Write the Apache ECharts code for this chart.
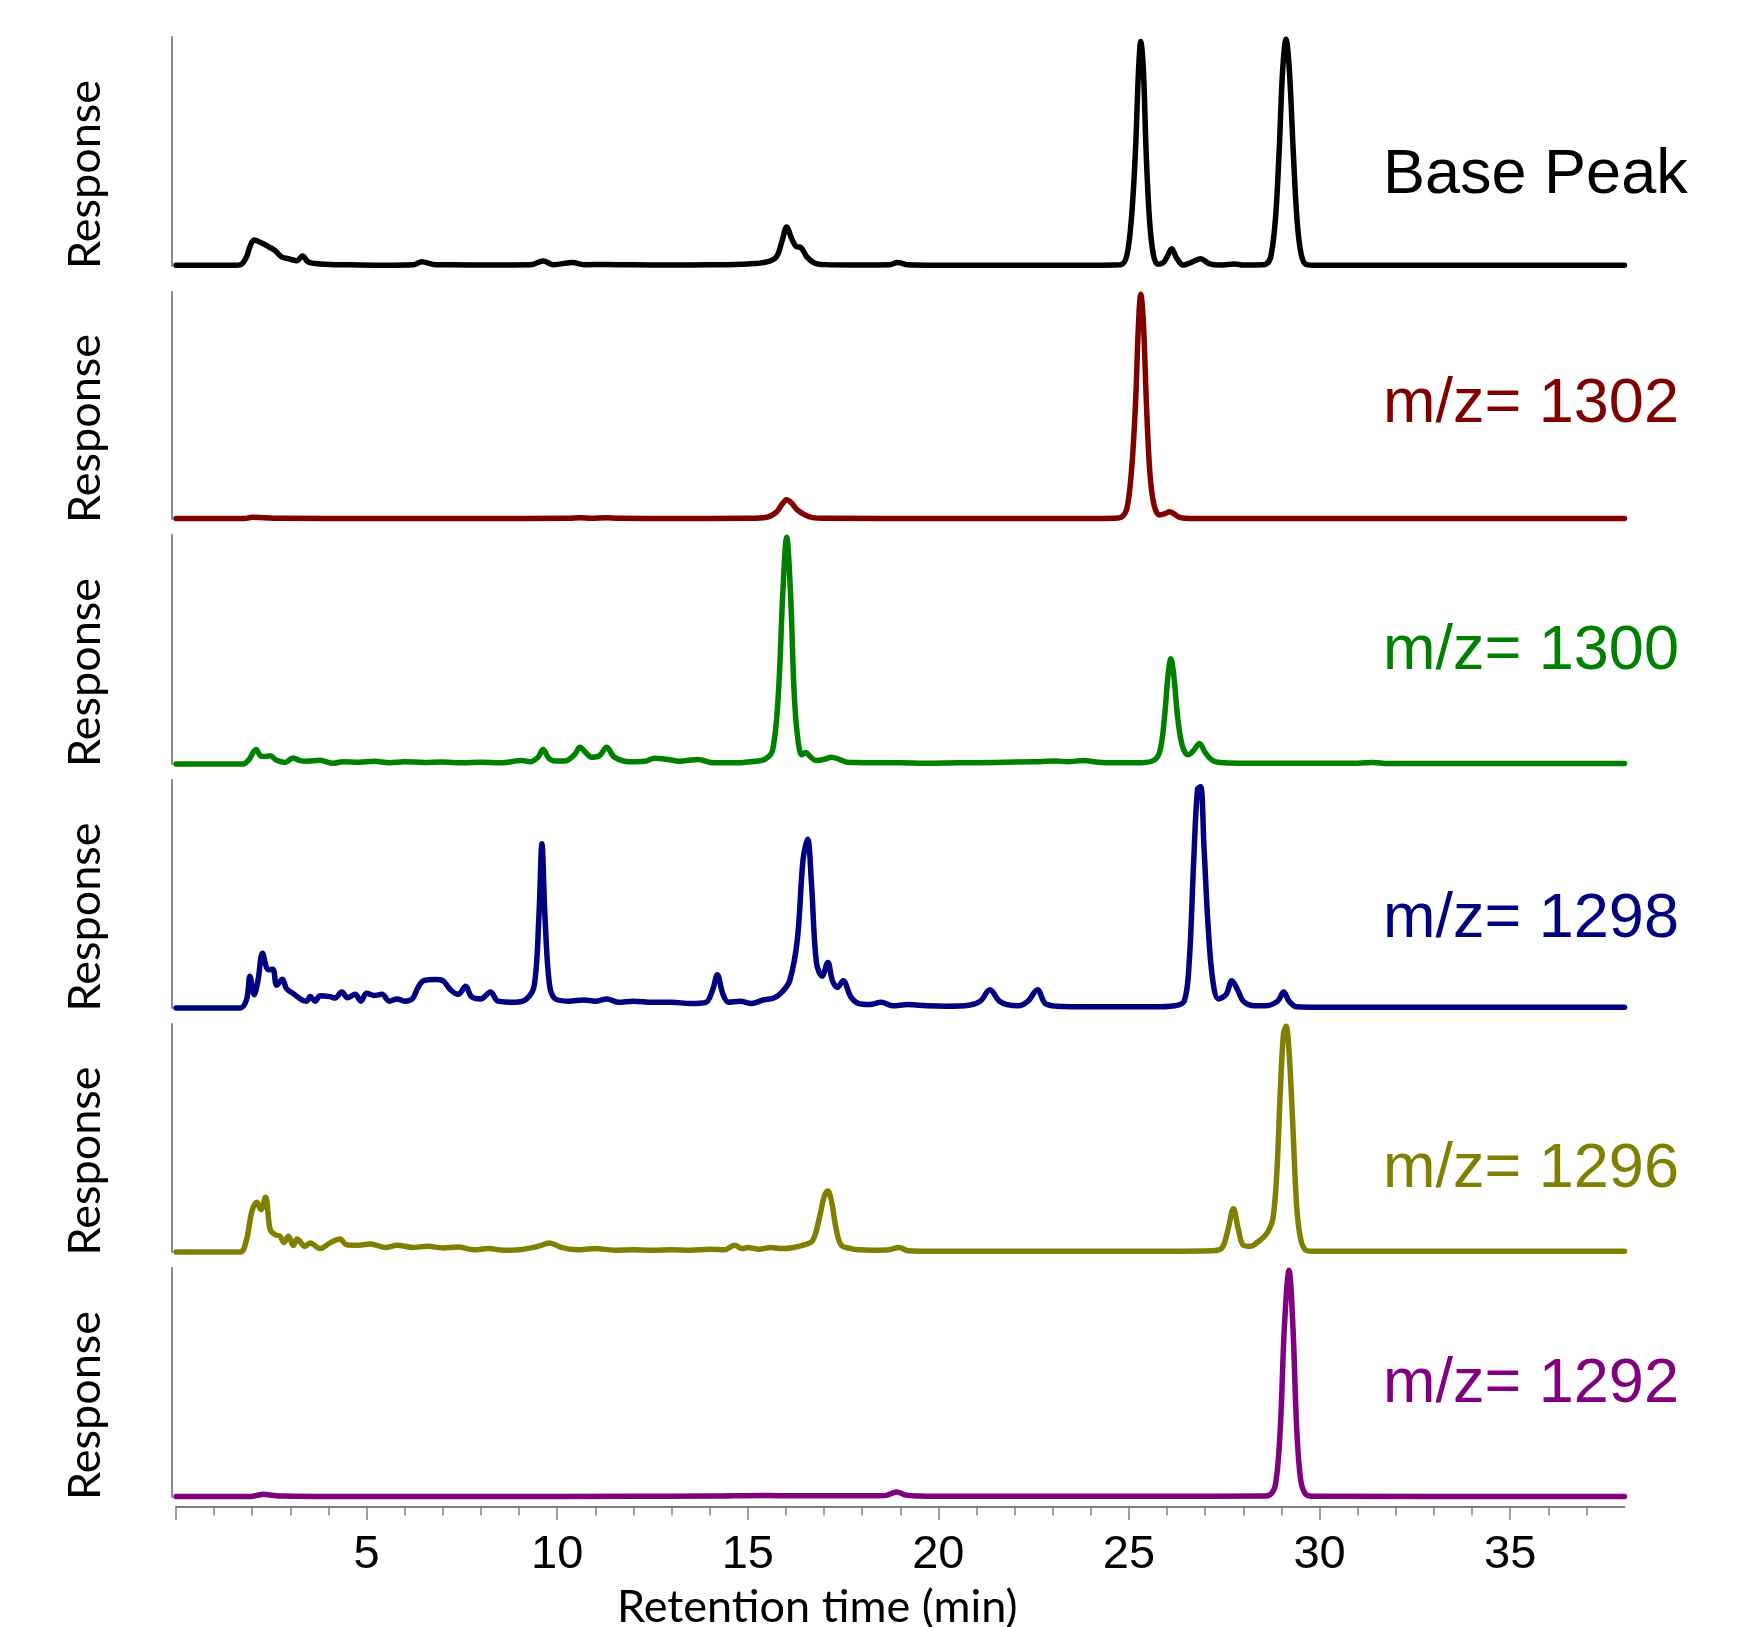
<!DOCTYPE html>
<html>
<head>
<meta charset="utf-8">
<script src="https://cdn.jsdelivr.net/npm/echarts@6/dist/echarts.min.js"></script>
<style>html,body{margin:0;padding:0;background:#fff}#c{width:1749px;height:1627px}</style>
</head>
<body>
<div id="c"></div>
<script>
// ---------- data ----------
const xMajorTicks = [0, 5, 10, 15, 20, 25, 30, 35];
const xTickLabels = [5, 10, 15, 20, 25, 30, 35];
const traceNames = ['Base Peak', 'm/z= 1302', 'm/z= 1300', 'm/z= 1298', 'm/z= 1296', 'm/z= 1292'];
const traceColors = ['#000000', '#800000', '#008000', '#000080', '#808000', '#800080'];

const basePeak = [[0,0.3],[1.5,0.3],[1.7,0.6],[1.85,4],[1.94,8.5],[2.05,11.3],[2.25,10],[2.42,8.5],[2.6,6.7],[2.77,4],[2.99,3],[3.17,2.3],[3.32,4.4],[3.47,1.7],[3.78,0.9],[4.56,0.5],[5.43,0.3],[6.23,0.5],[6.45,1.9],[6.75,0.7],[7.2,0.5],[8.2,0.4],[9.3,0.5],[9.63,2.2],[9.9,0.6],[10.4,1.5],[10.7,0.6],[11.3,0.7],[12,0.5],[13,0.4],[14,0.5],[15,0.9],[15.5,1.8],[15.75,4],[15.9,11],[16.02,17],[16.15,12],[16.27,8.5],[16.4,8],[16.55,4],[16.75,1.3],[17,0.6],[18,0.4],[18.7,0.5],[18.93,1.5],[19.2,0.5],[20,0.3],[22,0.3],[24,0.3],[24.6,0.4],[24.8,0.6],[24.95,5],[25.07,22],[25.17,50],[25.25,85],[25.31,98],[25.38,85],[25.45,50],[25.54,20],[25.64,5],[25.75,0.8],[25.9,1.5],[26.0,4],[26.12,7.5],[26.25,3.5],[26.42,0.4],[26.6,1.3],[26.88,3.2],[27.1,1],[27.4,0.4],[27.77,0.9],[28,0.4],[28.5,0.5],[28.6,0.8],[28.72,4],[28.84,20],[28.94,50],[29.03,85],[29.12,99],[29.21,85],[29.31,50],[29.41,20],[29.52,5],[29.66,0.6],[29.9,0.3],[33,0.3],[38,0.3]];

const mz1302 = [[0,0.2],[1.8,0.2],[2.0,0.8],[2.3,0.6],[2.8,0.3],[5,0.2],[8,0.2],[10.3,0.3],[10.6,0.6],[10.9,0.3],[11.3,0.6],[11.6,0.3],[13,0.2],[15,0.3],[15.5,0.8],[15.75,3],[15.9,6.5],[16.02,8.5],[16.15,7],[16.3,4],[16.5,1.8],[16.7,0.6],[17,0.3],[20,0.2],[24,0.2],[24.6,0.3],[24.8,0.8],[24.95,5],[25.07,22],[25.17,50],[25.25,86],[25.31,99],[25.38,86],[25.46,50],[25.55,20],[25.66,6],[25.8,1.8],[25.95,2.4],[26.07,3.2],[26.2,2],[26.35,0.6],[26.6,0.2],[30,0.2],[38,0.2]];

const mz1300 = [[0,0],[1.76,0],[1.9,1.6],[2.1,6.3],[2.22,3.5],[2.33,3.3],[2.47,3.6],[2.64,1.6],[2.86,0.7],[3.07,2.6],[3.25,1.5],[3.43,1.2],[3.78,1.6],[4.12,0.3],[4.38,1.0],[4.8,0.8],[5.2,1.2],[5.6,0.6],[6.0,1.0],[6.5,0.7],[7.0,0.9],[7.5,0.5],[8.0,0.8],[8.5,0.5],[9.08,1.5],[9.3,1.0],[9.5,3],[9.63,6.3],[9.78,2.5],[9.95,1.3],[10.2,1.3],[10.45,4],[10.6,7.3],[10.75,5],[10.9,3],[11.1,3.5],[11.3,7.3],[11.5,3],[11.9,1],[12.3,1.2],[12.55,2.5],[12.9,2],[13.2,1.2],[13.7,2],[14.1,0.5],[14.7,0.5],[15.2,1.2],[15.45,2],[15.65,6],[15.8,30],[15.92,75],[16.02,99],[16.12,75],[16.22,30],[16.32,10],[16.42,4],[16.52,5],[16.65,3],[16.8,1.5],[17.0,2],[17.2,3],[17.4,2],[17.6,0.8],[18,0.6],[18.5,0.5],[19,0.5],[19.6,0.3],[20.5,0.5],[21.5,0.7],[22.5,1],[23.1,1.3],[23.4,1],[23.8,1.5],[24.2,0.8],[24.6,0.5],[25.2,0.5],[25.6,1.2],[25.8,5],[25.93,20],[26.02,38],[26.1,46],[26.18,38],[26.28,20],[26.4,8],[26.55,4],[26.7,6],[26.85,9],[27.0,5],[27.2,1.5],[27.5,0.5],[28,0.3],[31.0,0.3],[31.4,0.7],[31.8,0.2],[38,0.2]];

const mz1298 = [[0,0],[1.68,0],[1.85,3.6],[1.94,13.9],[2.05,5.8],[2.15,12],[2.27,24],[2.42,16.8],[2.54,17],[2.64,10],[2.79,12.6],[2.9,8.5],[3.08,6.3],[3.3,3.6],[3.43,3],[3.52,5],[3.65,3],[3.78,5.4],[4.04,5],[4.17,4.4],[4.35,7],[4.5,4.5],[4.7,6],[4.85,3],[5.0,6.5],[5.2,5.5],[5.4,6],[5.6,3],[5.8,4],[6.0,3],[6.2,4],[6.35,9],[6.5,12],[6.8,12.5],[7.0,12],[7.2,8],[7.4,6],[7.6,9.5],[7.75,5],[8.0,4],[8.25,7],[8.45,3],[8.9,2.5],[9.2,4],[9.4,10],[9.52,40],[9.6,72],[9.68,40],[9.8,10],[9.95,4],[10.3,3],[10.7,3.5],[11.0,3],[11.3,4],[11.6,2.5],[12.0,3],[12.5,2.5],[13.0,2.5],[13.5,2],[13.9,2.5],[14.08,8],[14.2,14.6],[14.35,6],[14.5,2.5],[14.8,3],[15.1,2],[15.4,3.5],[15.7,4.5],[15.9,7],[16.1,12],[16.3,30],[16.45,65],[16.57,74],[16.67,55],[16.8,20],[16.95,14],[17.1,20],[17.22,12],[17.35,9],[17.5,12],[17.7,5],[17.9,2],[18.2,1.5],[18.5,2.5],[18.8,1],[19.2,1.5],[19.7,1],[20.2,0.8],[20.8,1.2],[21.1,3],[21.35,8],[21.6,3],[21.8,1.5],[22.1,1],[22.35,3],[22.6,8],[22.8,2],[23.1,0.8],[24,0.5],[25,0.6],[25.6,0.5],[26.2,1],[26.45,3],[26.58,20],[26.7,65],[26.8,96],[26.88,97],[26.97,70],[27.08,35],[27.2,12],[27.35,4],[27.55,6],[27.7,12],[27.85,8],[28.0,3],[28.3,1],[28.6,1],[28.9,3],[29.06,7],[29.2,3],[29.4,0.5],[30,0.3],[38,0.3]];

const mz1296 = [[0,0],[1.68,0],[1.85,5.4],[1.99,17.8],[2.12,21.8],[2.23,18.6],[2.35,24],[2.47,9.8],[2.6,7.6],[2.73,6.9],[2.83,4.2],[2.95,6.9],[3.08,2.8],[3.18,5.7],[3.38,2.5],[3.52,4],[3.78,1.5],[4.04,4],[4.3,5.7],[4.47,3.2],[4.8,3],[5.1,3.5],[5.5,2],[5.8,3],[6.2,2],[6.6,2.5],[7.0,1.8],[7.4,2.2],[7.8,1],[8.2,1.5],[8.6,0.8],[9.0,1],[9.5,2.5],[9.8,4],[10.1,2],[10.5,1],[11,1.5],[11.5,0.8],[12,1],[12.5,0.8],[13,1],[13.5,0.8],[14,1.2],[14.4,1],[14.65,3],[14.85,1.5],[15.0,2],[15.3,1.2],[15.6,2],[15.9,1.5],[16.2,2],[16.45,3],[16.7,5],[16.88,15],[17.0,24],[17.1,26.7],[17.2,22],[17.32,10],[17.45,3],[17.7,1.5],[17.9,1],[18.3,0.8],[18.7,1],[18.97,2],[19.2,0.6],[20,0.3],[22,0.3],[24,0.3],[26,0.3],[27.2,0.5],[27.45,2],[27.6,10],[27.74,19],[27.87,10],[28.0,3],[28.2,2.5],[28.35,4],[28.5,6],[28.65,9],[28.78,15],[28.88,35],[28.97,70],[29.05,95],[29.12,99],[29.2,88],[29.3,55],[29.4,20],[29.5,6],[29.62,1],[29.8,0.3],[38,0.3]];

const mz1292 = [[0,0.2],[1.9,0.2],[2.1,0.6],[2.3,1.2],[2.5,0.8],[2.8,0.4],[4,0.2],[8,0.2],[12,0.3],[14,0.4],[15.5,0.7],[16.5,0.5],[18,0.5],[18.6,0.6],[18.9,2.2],[19.15,0.8],[19.5,0.4],[20,0.3],[26,0.3],[28.5,0.4],[28.7,1],[28.85,6],[28.97,30],[29.08,75],[29.2,99],[29.3,75],[29.4,30],[29.5,8],[29.62,1.5],[29.8,0.3],[38,0.2]];

const traces = [basePeak, mz1302, mz1300, mz1298, mz1296, mz1292];

// ---------- layout ----------
const panels = [
  {top: 37, h: 229}, {top: 292, h: 227}, {top: 535, h: 229},
  {top: 780, h: 228}, {top: 1024, h: 228}, {top: 1268, h: 229}
];
const labelY = [176, 405, 652, 920, 1170, 1385];
const last = panels.length - 1;

const chart = echarts.init(document.getElementById('c'), null, {renderer: 'canvas'});
const option = {
  backgroundColor: '#ffffff',
  animation: false,
  grid: panels.map(p => ({left: 176, width: 1448.5, top: p.top, height: p.h, containLabel: false, outerBoundsMode: 'none'})),
  xAxis: panels.map((p, i) => {
    const ax = {
      gridIndex: i, type: 'value', min: 0, max: 38, interval: 5,
      show: i === last,
      splitLine: {show: false}, minorSplitLine: {show: false}
    };
    if (i === last) {
      Object.assign(ax, {
        offset: 10,
        axisLine: {show: true, onZero: false, lineStyle: {color: '#808080', width: 2}},
        axisTick: {show: true, length: 13, customValues: xMajorTicks, lineStyle: {color: '#808080', width: 1.5}},
        minorTick: {show: true, splitNumber: 5, length: 8.5, lineStyle: {color: '#808080', width: 1.5}},
        axisLabel: {show: true, customValues: xTickLabels, fontFamily: '"Liberation Sans", Arial, sans-serif', fontSize: 47, color: '#000', margin: 25},
        name: 'Retention time (min)', nameLocation: 'middle', nameGap: 78,
        nameTextStyle: {fontFamily: 'Lato, "Open Sans", sans-serif', fontSize: 45, color: '#000', padding: [0, 166, 0, 0]}
      });
    }
    return ax;
  }),
  yAxis: panels.map((p, i) => ({
    gridIndex: i, type: 'value', min: 0, max: 100, offset: 4,
    axisLine: {show: true, onZero: false, lineStyle: {color: '#8c8c8c', width: 2}},
    axisTick: {show: false}, axisLabel: {show: false}, splitLine: {show: false},
    name: 'Response', nameLocation: 'middle', nameGap: 64, nameRotate: 90,
    nameTextStyle: {fontFamily: 'Lato, "Open Sans", sans-serif', fontSize: 45, color: '#000', padding: [0, 46, 0, 0]}
  })),
  series: traces.map((d, i) => ({
    type: 'line', xAxisIndex: i, yAxisIndex: i, data: d,
    showSymbol: false, smooth: 0.35, clip: false,
    lineStyle: {color: traceColors[i], width: 5.5, join: 'round', cap: 'round'},
    itemStyle: {color: traceColors[i]}
  })),
  graphic: traceNames.map((t, i) => ({
    type: 'text', x: 1383, y: labelY[i],
    style: {text: t, fill: traceColors[i], font: '63px "Liberation Sans", Arial, sans-serif', align: 'left', verticalAlign: 'middle'}
  }))
};
chart.setOption(option);
</script>
</body>
</html>
